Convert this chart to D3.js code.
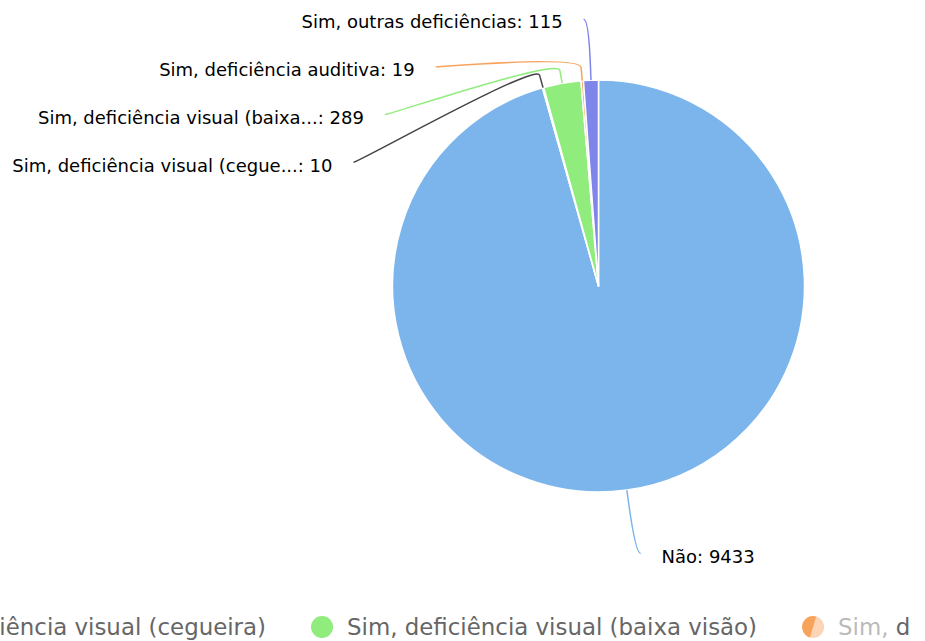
<!DOCTYPE html>
<meta charset="utf-8">
<script src="https://d3js.org/d3.v7.min.js"></script>
<style>
   body {
      background-color: white;
      margin: 0;
      padding: 0;
   }
   .dlabel {
      font-family: "DejaVu Sans";
      font-size: 18px;
      fill: #000;
   }
   .legend-item text {
      font-family: "DejaVu Sans";
      font-size: 22.9px;
      fill: #666666;
   }
</style>
<body>
<svg id="chart" width="925" height="641"></svg>
<script>

   // data
   var categories = ["Não", "Sim, deficiência visual (cegueira)", "Sim, deficiência visual (baixa visão)",
      "Sim, deficiência auditiva", "Sim, outras deficiências"];
   var shortNames = ["Não", "Sim, deficiência visual (cegue...", "Sim, deficiência visual (baixa...",
      "Sim, deficiência auditiva", "Sim, outras deficiências"];
   var values = [9433, 10, 289, 19, 115];
   var colors = ["#7cb5ec", "#434348", "#90ed7d", "#f7a35c", "#8085e9"];

   var svg = d3.select("#chart"),
      width = +svg.attr("width"),
      height = +svg.attr("height");

   // pie geometry
   var cx = 598.5, cy = 286, radius = 206;
   var labelDistance = 64;            // r' = radius + distance
   var rLabel = radius + labelDistance;
   var connectorOffset = 13;
   var slot = 47.7;                   // vertical spacing of stacked labels
   var padding = 5, textGap = 21;

   var pie = d3.pie().sort(null).value(function (d) { return d; })
      .startAngle(0).endAngle(2 * Math.PI);
   var arcs = pie(values);

   var arc = d3.arc().innerRadius(0).outerRadius(radius);

   var g = svg.append("g").attr("transform", "translate(" + cx + "," + cy + ")");

   g.selectAll("path.slice")
      .data(arcs)
      .enter()
      .append("path")
      .attr("class", "slice")
      .attr("d", arc)
      .attr("fill", function (d, i) { return colors[i] })
      .attr("stroke", "white")
      .attr("stroke-width", 1.5)
      .attr("stroke-linejoin", "round");

   // label positions (Highcharts-like)
   function getX(y, left) {
      var dy = Math.max(-rLabel, Math.min(rLabel, y - cy));
      return cx + (left ? -1 : 1) * (Math.sqrt(rLabel * rLabel - dy * dy) + padding);
   }

   var labels = arcs.map(function (d, i) {
      var a = (d.startAngle + d.endAngle) / 2;
      return {
         i: i,
         a: a,
         left: Math.sin(a) < 0,
         naturalY: cy - rLabel * Math.cos(a),
         touch: [cx + radius * Math.sin(a), cy - radius * Math.cos(a)],
         brk: [cx + (radius + connectorOffset) * Math.sin(a), cy - (radius + connectorOffset) * Math.cos(a)]
      };
   });

   // stack left side labels from the top
   var leftLabels = labels.filter(function (l) { return l.left })
      .sort(function (a, b) { return a.naturalY - b.naturalY });
   var prev = null;
   leftLabels.forEach(function (l, k) {
      if (k === 0) {
         l.y = l.naturalY + 3;
         l.x = getX(l.naturalY, true);
      } else {
         l.y = Math.max(l.naturalY, prev + slot);
         l.x = getX(l.y, true);
      }
      prev = l.y;
   });
   labels.filter(function (l) { return !l.left }).forEach(function (l) {
      l.y = l.naturalY;
      l.x = getX(l.y, false);
   });

   // connectors
   svg.append("g")
      .selectAll("path.connector")
      .data(labels)
      .enter()
      .append("path")
      .attr("class", "connector")
      .attr("fill", "none")
      .attr("stroke", function (d) { return colors[d.i] })
      .attr("stroke-width", 1.5)
      .attr("d", function (d) {
         var p = d3.path();
         p.moveTo(d.x, d.y);
         p.bezierCurveTo(d.x + (d.left ? 5 : -5), d.y,
            2 * d.brk[0] - d.touch[0], 2 * d.brk[1] - d.touch[1],
            d.brk[0], d.brk[1]);
         p.lineTo(d.touch[0], d.touch[1]);
         return p.toString();
      });

   // data labels
   svg.append("g")
      .selectAll("text")
      .data(labels)
      .enter()
      .append("text")
      .attr("class", "dlabel")
      .attr("x", function (d) { return d.left ? d.x - textGap : d.x + textGap })
      .attr("y", function (d) { return d.y + 3 })
      .attr("dy", "0.35em")
      .attr("text-anchor", function (d) { return d.left ? "end" : "start" })
      .text(function (d) { return shortNames[d.i] + ": " + values[d.i] });

   // legend (horizontal, scrolled so it overflows on both sides)
   svg.append("clipPath").attr("id", "legendClip")
      .append("rect").attr("x", 0).attr("y", 590).attr("width", 911).attr("height", 51);

   var legendY = 627, symR = 11, symGap = 25, itemDist = 45;
   var legend = svg.append("g").attr("clip-path", "url(#legendClip)")
      .append("g");

   var items = legend.selectAll("g.legend-item")
      .data(categories)
      .enter()
      .append("g")
      .attr("class", "legend-item");

   items.append("circle")
      .attr("r", symR)
      .attr("cy", legendY)
      .attr("fill", function (d, i) { return colors[i] });

   items.append("text")
      .attr("y", legendY)
      .attr("dy", "0.35em")
      .text(function (d) { return d });

   var xpos = 0, symX = [];
   items.each(function (d, i) {
      var w = this.querySelector("text").getComputedTextLength();
      symX.push(xpos + symR);
      d3.select(this).select("circle").attr("cx", xpos + symR);
      d3.select(this).select("text").attr("x", xpos + symR + symGap);
      xpos += symR + symGap + w + itemDist;
   });
   // scroll so the "baixa visão" item sits under the pie
   legend.attr("transform", "translate(" + (322 - symX[2]) + ",0)");

   // faded overlay on the clipped legend edge
   svg.append("polygon")
      .attr("points", "818,610 896,610 894,641 809,641")
      .attr("fill", "white")
      .attr("opacity", 0.55);

</script>
</body>
